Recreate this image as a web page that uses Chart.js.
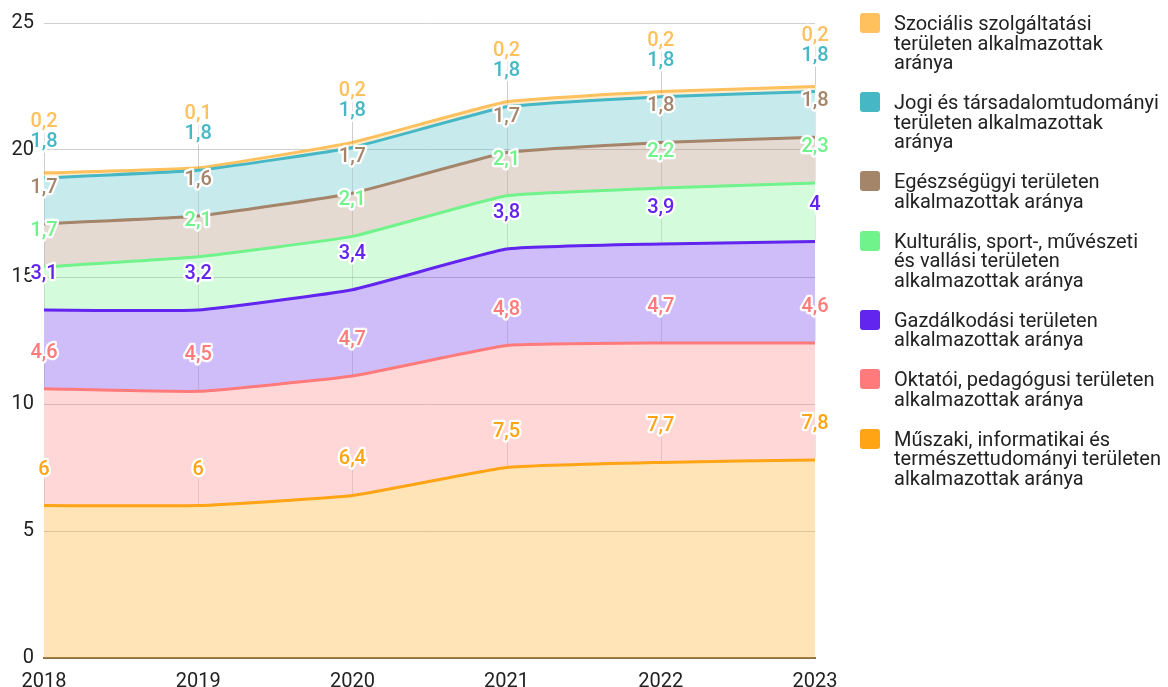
<!DOCTYPE html>
<html>
<head>
<meta charset="utf-8">
<script src="https://cdn.jsdelivr.net/npm/chart.js@4"></script>
<style>
  html, body { margin: 0; padding: 0; background: #fff; overflow: hidden; }
  #wrap { position: relative; width: 1168px; height: 706px; }
  #legend { position: absolute; left: 860px; top: 13px; font-family: Roboto, sans-serif; font-size: 20px; line-height: 19.5px; color: #222; }
  .item { display: flex; align-items: flex-start; margin-bottom: 19.5px; white-space: nowrap; }
  .box { width: 20px; height: 20px; border-radius: 3px; flex: none; margin-right: 14px; }
  .txt { margin-top: 1px; }
</style>
</head>
<body>
<div id="wrap">
  <canvas id="c"></canvas>
  <div id="legend"></div>
</div>
<script>
const years = ['2018', '2019', '2020', '2021', '2022', '2023'];
const muszaki      = [6, 6, 6.4, 7.5, 7.7, 7.8];
const oktatoi      = [4.6, 4.5, 4.7, 4.8, 4.7, 4.6];
const gazdalkodasi = [3.1, 3.2, 3.4, 3.8, 3.9, 4];
const kulturalis   = [1.7, 2.1, 2.1, 2.1, 2.2, 2.3];
const egeszsegugyi = [1.7, 1.6, 1.7, 1.7, 1.8, 1.8];
const jogi         = [1.8, 1.8, 1.8, 1.8, 1.8, 1.8];
const szocialis    = [0.2, 0.1, 0.2, 0.2, 0.2, 0.2];

const seriesNames = [
  ['Műszaki, informatikai és', 'természettudományi területen', 'alkalmazottak aránya'],
  ['Oktatói, pedagógusi területen', 'alkalmazottak aránya'],
  ['Gazdálkodási területen', 'alkalmazottak aránya'],
  ['Kulturális, sport-, művészeti', 'és vallási területen', 'alkalmazottak aránya'],
  ['Egészségügyi területen', 'alkalmazottak aránya'],
  ['Jogi és társadalomtudományi', 'területen alkalmazottak', 'aránya'],
  ['Szociális szolgáltatási', 'területen alkalmazottak', 'aránya']
];
const seriesValues = [muszaki, oktatoi, gazdalkodasi, kulturalis, egeszsegugyi, jogi, szocialis];
const seriesColors = ['#FFA415', '#FF7B7B', '#6125EF', '#71F38B', '#A4856A', '#46B8C5', '#FFC05E'];

function alpha(hex, a) {
  const n = parseInt(hex.slice(1), 16);
  return `rgba(${(n >> 16) & 255},${(n >> 8) & 255},${n & 255},${a})`;
}

const datasets = seriesValues.map((vals, i) => ({
  label: seriesNames[i].join(' '),
  data: vals,
  borderColor: seriesColors[i],
  backgroundColor: alpha(seriesColors[i], 0.3),
  borderWidth: 3,
  pointRadius: 0,
  pointHoverRadius: 0,
  tension: 0.12,
  fill: i === 0 ? 'origin' : '-1'
}));

const fmt = v => String(v).replace('.', ',');

const labelPlugin = {
  id: 'valueLabels',
  afterDatasetsDraw(chart) {
    const ctx = chart.ctx;
    const n = chart.data.labels.length;
    const metas = chart.data.datasets.map((d, i) => chart.getDatasetMeta(i));
    ctx.save();
    ctx.font = '500 20px Roboto';
    ctx.textAlign = 'center';
    ctx.textBaseline = 'middle';
    for (let j = 0; j < n; j++) {
      let prev = Infinity;
      const items = [];
      metas.forEach((meta, d) => {
        const pt = meta.data[j];
        let y = pt.y - 37;
        if (y > prev - 20) y = prev - 20;
        prev = y;
        items.push({ x: pt.x, y, py: pt.y, d, v: chart.data.datasets[d].data[j] });
      });
      ctx.strokeStyle = 'rgba(0,0,0,0.1)';
      ctx.lineWidth = 1;
      items.forEach(it => {
        const x = Math.round(it.x) + 0.5;
        ctx.beginPath();
        ctx.moveTo(x, it.y + 10);
        ctx.lineTo(x, it.py - 1.5);
        ctx.stroke();
      });
      items.forEach(it => {
        const t = fmt(it.v);
        ctx.lineJoin = 'round';
        ctx.lineWidth = 4.5;
        ctx.strokeStyle = '#fff';
        ctx.strokeText(t, it.x, it.y + 1);
        ctx.fillStyle = seriesColors[it.d];
        ctx.fillText(t, it.x, it.y + 1);
      });
    }
    ctx.restore();
  }
};

new Chart(document.getElementById('c'), {
  type: 'line',
  data: { labels: years, datasets },
  plugins: [labelPlugin],
  options: {
    responsive: true,
    maintainAspectRatio: false,
    animation: false,
    layout: { padding: { left: 1.5, top: 23, right: 353, bottom: 0 } },
    plugins: {
      legend: { display: false },
      tooltip: { enabled: false },
      filler: { drawTime: 'beforeDatasetsDraw' }
    },
    scales: {
      x: {
        z: 1,
        offset: false,
        grid: { display: false, drawTicks: false },
        border: { display: true, color: '#85704B', width: 2 },
        ticks: { color: '#222', font: { family: 'Roboto', size: 20, lineHeight: 1 }, padding: 14, maxRotation: 0 }
      },
      y: {
        stacked: true,
        min: 0,
        max: 25,
        grid: { color: '#d0d0d0', lineWidth: 1, drawTicks: false },
        border: { display: false },
        ticks: { stepSize: 5, color: '#222', font: { family: 'Roboto', size: 20 }, padding: 10 }
      }
    }
  }
});

const legend = document.getElementById('legend');
for (let i = seriesNames.length - 1; i >= 0; i--) {
  const item = document.createElement('div');
  item.className = 'item';
  const box = document.createElement('div');
  box.className = 'box';
  box.style.background = seriesColors[i];
  const txt = document.createElement('div');
  txt.className = 'txt';
  seriesNames[i].forEach((line, k) => {
    if (k) txt.appendChild(document.createElement('br'));
    txt.appendChild(document.createTextNode(line));
  });
  item.appendChild(box);
  item.appendChild(txt);
  legend.appendChild(item);
}
</script>
</body>
</html>
